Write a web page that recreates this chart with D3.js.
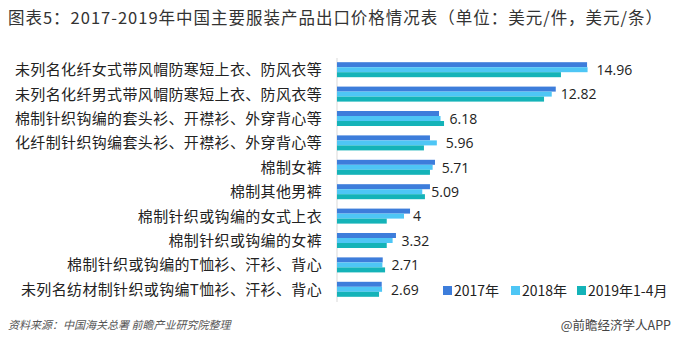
<!DOCTYPE html>
<html><head><meta charset="utf-8">
<script src="https://cdn.jsdelivr.net/npm/d3@7"></script>
<style>
html,body{margin:0;padding:0;background:#fff;}
svg{display:block;font-family:"Noto Sans CJK SC","Noto Sans",sans-serif;}
</style></head>
<body>
<svg id="c" width="676" height="346"></svg>
<script>
const categories = [
  "未列名化纤女式带风帽防寒短上衣、防风衣等",
  "未列名化纤男式带风帽防寒短上衣、防风衣等",
  "棉制针织钩编的套头衫、开襟衫、外穿背心等",
  "化纤制针织钩编套头衫、开襟衫、外穿背心等",
  "棉制女裤",
  "棉制其他男裤",
  "棉制针织或钩编的女式上衣",
  "棉制针织或钩编的女裤",
  "棉制针织或钩编的T恤衫、汗衫、背心",
  "未列名纺材制针织或钩编T恤衫、汗衫、背心"
];
const seriesNames = ["2017年", "2018年", "2019年1-4月"];
const values2017 = [14.93, 13.06, 6.09, 5.55, 5.85, 5.55, 4.36, 3.52, 2.73, 2.67];
const values2018 = [14.96, 12.82, 6.18, 5.96, 5.71, 5.09, 4, 3.32, 2.71, 2.69];
const values2019 = [13.37, 12.36, 6.39, 5.19, 5.55, 5.25, 2.97, 2.97, 2.87, 2.51];
const labelValues = ["14.96", "12.82", "6.18", "5.96", "5.71", "5.09", "4", "3.32", "2.71", "2.69"];
const colors = ["#3d7ddb", "#4ec6f5", "#14b3b8"];

const series = [values2017, values2018, values2019];
const svg = d3.select("#c");

// title
svg.append("text").attr("x", 8).attr("y", 24)
  .attr("font-size", 16.5).attr("fill", "#333")
  .attr("textLength", 654).attr("lengthAdjust", "spacing")
  .text("图表5：2017-2019年中国主要服装产品出口价格情况表（单位：美元/件，美元/条）");

const x = d3.scaleLinear().domain([0, 16]).range([337, 337 + 16 * 16.75]);
const y = d3.scaleBand().domain(categories).range([57.5, 301.5]).paddingInner(0.385).paddingOuter(0.1925);
const ys = d3.scaleBand().domain(d3.range(3)).range([0, y.bandwidth()]);

// axis line
svg.append("line").attr("x1", 337).attr("x2", 337).attr("y1", 58).attr("y2", 302)
  .attr("stroke", "#d9d9d9").attr("stroke-width", 1);

// category labels
svg.append("g").selectAll("text").data(categories).join("text")
  .attr("x", 322).attr("y", d => y(d) + y.bandwidth() / 2)
  .attr("dy", "0.36em").attr("text-anchor", "end")
  .attr("font-size", 15).attr("letter-spacing", 0.35).attr("fill", "#222")
  .text(d => d);

// bars
series.forEach((vals, si) => {
  svg.append("g").selectAll("rect").data(vals).join("rect")
    .attr("x", x(0)).attr("y", (d, i) => y(categories[i]) + ys(si))
    .attr("width", d => x(d) - x(0)).attr("height", ys.bandwidth())
    .attr("fill", colors[si]);
});

// data labels (2018)
svg.append("g").selectAll("text").data(values2018).join("text")
  .attr("x", d => x(d) + 9)
  .attr("y", (d, i) => y(categories[i]) + ys(1) + ys.bandwidth() / 2)
  .attr("dy", "0.38em").attr("font-size", 14).attr("fill", "#222")
  .attr("font-family", "'Open Sans','Noto Sans',sans-serif")
  .text((d, i) => labelValues[i]);

// legend
const legendX = [443, 511, 577];
const lg = svg.append("g");
seriesNames.forEach((n, i) => {
  lg.append("rect").attr("x", legendX[i]).attr("y", 286).attr("width", 9).attr("height", 9).attr("fill", colors[i]);
  lg.append("text").attr("x", legendX[i] + 11).attr("y", 291).attr("dy", "0.36em")
    .attr("font-size", 14).attr("fill", "#222").text(n);
});

// footer
svg.append("text").attr("x", 8).attr("y", 329).attr("font-size", 11)
  .attr("font-style", "italic").attr("fill", "#555")
  .text("资料来源：中国海关总署 前瞻产业研究院整理");
svg.append("text").attr("x", 671).attr("y", 330).attr("font-size", 12.5)
  .attr("text-anchor", "end").attr("fill", "#444")
  .text("@前瞻经济学人APP");
</script>
</body></html>
